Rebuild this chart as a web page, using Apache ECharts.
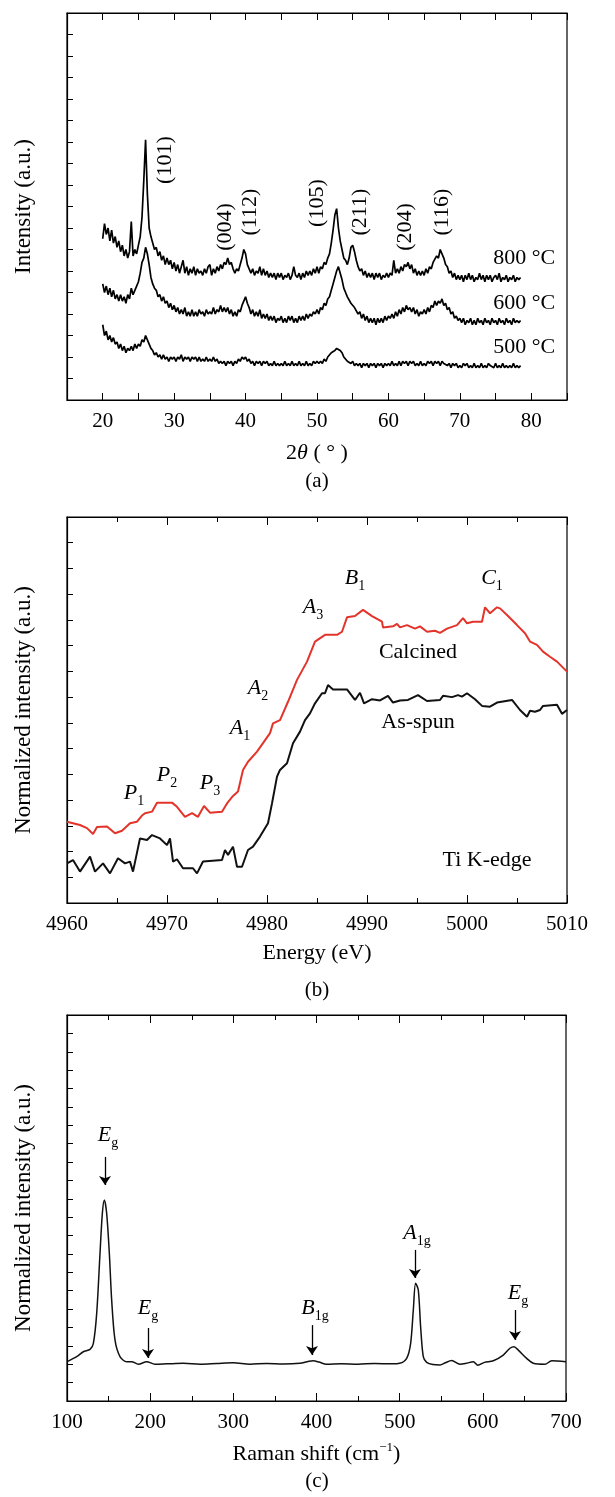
<!DOCTYPE html>
<html>
<head>
<meta charset="utf-8">
<script src="https://cdn.jsdelivr.net/npm/echarts@6.0.0/dist/echarts.min.js"></script>
<style>
    html, body { margin: 0; padding: 0; background: #fff; }
    #main { width: 615px; height: 1497px; }
</style>
</head>
<body>
<div id="main"></div>
<script>
// ---- (a) XRD ----
var twoTheta = [
    20,20.25,20.5,20.75,21,21.25,21.5,21.75,22,22.25,22.5,22.75,23,23.25,23.5,23.75,24,24.25,24.5,24.75,
    25,25.25,25.5,25.75,26,26.25,26.5,26.75,27,27.25,27.5,27.75,28,28.25,28.5,28.75,29,29.25,29.5,29.75,
    30,30.25,30.5,30.75,31,31.25,31.5,31.75,32,32.25,32.5,32.75,33,33.25,33.5,33.75,34,34.25,34.5,34.75,
    35,35.25,35.5,35.75,36,36.25,36.5,36.75,37,37.25,37.5,37.75,38,38.25,38.5,38.75,39,39.25,39.5,39.75,
    40,40.25,40.5,40.75,41,41.25,41.5,41.75,42,42.25,42.5,42.75,43,43.25,43.5,43.75,44,44.25,44.5,44.75,
    45,45.25,45.5,45.75,46,46.25,46.5,46.75,47,47.25,47.5,47.75,48,48.25,48.5,48.75,49,49.25,49.5,49.75,
    50,50.25,50.5,50.75,51,51.25,51.5,51.75,52,52.25,52.5,52.75,53,53.25,53.5,53.75,54,54.25,54.5,54.75,
    55,55.25,55.5,55.75,56,56.25,56.5,56.75,57,57.25,57.5,57.75,58,58.25,58.5,58.75,59,59.25,59.5,59.75,
    60,60.25,60.5,60.75,61,61.25,61.5,61.75,62,62.25,62.5,62.75,63,63.25,63.5,63.75,64,64.25,64.5,64.75,
    65,65.25,65.5,65.75,66,66.25,66.5,66.75,67,67.25,67.5,67.75,68,68.25,68.5,68.75,69,69.25,69.5,69.75,
    70,70.25,70.5,70.75,71,71.25,71.5,71.75,72,72.25,72.5,72.75,73,73.25,73.5,73.75,74,74.25,74.5,74.75,
    75,75.25,75.5,75.75,76,76.25,76.5,76.75,77,77.25,77.5,77.75,78,78.25,78.5];
var xrd800 = [
    7.5,8.2,7.7,8.0,7.4,7.9,7.3,7.6,7.1,7.4,6.9,7.2,6.7,7.0,6.6,6.9,8.3,6.7,7.0,6.8,
    7.2,7.6,8.5,10.2,12.1,9.6,8.0,7.6,7.3,7.0,7.1,6.7,6.9,6.5,6.7,6.3,6.6,6.3,6.5,6.1,
    6.4,6.0,6.3,5.9,6.2,6.5,5.9,6.2,5.8,6.1,5.9,6.2,5.8,6.1,5.9,6.0,5.8,6.1,5.9,6.2,
    6.3,5.8,6.1,5.9,6.2,6.0,6.3,6.1,6.4,6.3,6.6,6.3,6.4,6.1,5.9,6.1,6.0,6.3,6.6,7.0,
    6.8,6.3,6.1,5.9,6.1,5.8,6.0,5.9,6.2,5.8,6.1,5.8,6.0,5.7,5.9,5.7,5.9,5.6,5.9,5.7,
    5.9,5.6,5.8,5.7,5.9,5.6,5.8,6.2,5.8,5.7,5.9,5.6,5.9,5.7,6.0,5.8,6.0,5.8,6.1,5.9,
    6.2,5.9,6.2,6.1,6.4,6.3,6.6,6.8,7.3,7.9,8.6,8.9,8.0,7.4,7.0,6.6,6.5,6.3,6.6,7.1,
    7.2,6.9,6.5,6.2,6.0,6.1,5.8,6.0,5.7,5.9,5.7,5.9,5.6,5.9,5.7,5.9,5.6,5.8,5.7,5.9,
    5.7,5.9,5.8,6.5,5.9,6.1,5.9,6.2,6.0,6.3,6.2,6.4,6.1,6.3,5.9,6.1,5.8,6.0,5.8,6.0,
    5.8,6.1,5.9,6.2,6.1,6.4,6.4,6.7,6.6,7.0,6.8,6.6,6.3,6.2,5.9,6.0,5.7,5.9,5.6,5.8,
    5.6,5.8,5.5,5.8,5.6,5.9,5.6,5.8,5.5,5.7,5.6,5.9,5.6,5.8,5.5,5.8,5.6,5.8,5.5,5.7,
    5.8,5.6,5.9,5.5,5.7,5.6,5.8,5.5,5.7,5.6,5.8,5.5,5.7,5.6,5.7];
var xrd600 = [
    5.4,5.0,5.3,4.9,5.2,4.8,5.1,4.7,4.9,4.6,4.9,4.6,4.8,4.5,4.9,4.7,5.2,4.9,5.1,5.3,
    5.5,5.9,6.4,6.6,7.1,6.8,6.3,5.7,5.4,5.2,5.1,4.8,4.9,4.6,4.8,4.5,4.6,4.3,4.5,4.2,
    4.4,4.1,4.3,4.0,4.2,4.0,4.3,3.9,4.1,3.9,4.2,3.9,4.1,3.9,4.2,4.0,4.1,3.9,4.2,4.0,
    4.1,4.0,4.3,4.0,4.2,4.1,4.4,4.1,4.3,4.1,4.3,4.0,4.2,3.9,4.1,3.9,4.2,4.1,4.4,4.6,
    4.8,4.5,4.3,4.0,4.2,3.9,4.1,3.9,4.2,3.8,4.0,3.8,4.0,3.7,3.9,3.7,3.9,3.6,3.8,3.7,
    3.9,3.6,3.8,3.6,3.9,3.7,3.9,3.6,3.8,3.6,3.9,3.7,3.9,3.7,4.0,3.8,4.0,3.9,4.1,4.0,
    4.2,4.0,4.3,4.2,4.5,4.4,4.7,4.8,5.1,5.4,5.7,6.0,6.2,5.9,5.6,5.2,5.0,4.8,4.8,4.5,
    4.5,4.3,4.3,4.0,4.1,3.8,4.0,3.7,3.9,3.6,3.8,3.6,3.8,3.5,3.8,3.6,3.8,3.6,3.9,3.7,
    3.9,3.8,4.0,3.8,4.1,3.9,4.2,4.0,4.3,4.1,4.4,4.2,4.3,4.1,4.3,4.0,4.2,3.9,4.1,4.0,
    4.2,4.0,4.3,4.1,4.4,4.3,4.6,4.4,4.6,4.5,4.7,4.4,4.5,4.2,4.3,4.0,4.1,3.8,3.9,3.7,
    3.8,3.6,3.8,3.5,3.7,3.6,3.8,3.5,3.7,3.5,3.8,3.6,3.7,3.5,3.8,3.6,3.7,3.5,3.8,3.6,
    3.7,3.5,3.8,3.6,3.7,3.5,3.8,3.6,3.7,3.5,3.8,3.6,3.7,3.6,3.7];
var xrd500 = [
    3.5,3.0,3.2,2.8,3.0,2.7,2.9,2.6,2.7,2.4,2.6,2.3,2.5,2.2,2.4,2.3,2.5,2.3,2.6,2.4,
    2.6,2.5,2.8,2.7,3.0,2.8,2.6,2.4,2.3,2.1,2.2,2.0,2.1,1.9,2.1,1.9,2.0,1.8,2.0,1.9,
    2.0,1.8,2.0,1.9,2.1,1.8,2.0,1.9,2.0,1.8,2.0,1.9,2.0,1.8,2.0,1.8,1.9,1.8,2.0,1.8,
    1.9,1.8,2.0,1.8,1.9,1.7,1.8,1.7,1.8,1.6,1.8,1.7,1.8,1.6,1.8,1.7,1.9,1.8,2.0,1.9,
    2.0,1.8,1.9,1.7,1.8,1.6,1.8,1.7,1.8,1.6,1.8,1.7,1.8,1.6,1.7,1.6,1.8,1.6,1.7,1.6,
    1.7,1.6,1.8,1.6,1.7,1.6,1.8,1.6,1.7,1.6,1.8,1.6,1.7,1.6,1.8,1.6,1.7,1.6,1.8,1.7,
    1.8,1.7,1.8,1.7,1.9,1.8,2.0,2.0,2.2,2.2,2.3,2.4,2.4,2.3,2.2,2.0,2.0,1.8,1.8,1.7,
    1.8,1.6,1.7,1.6,1.7,1.5,1.7,1.6,1.7,1.5,1.7,1.6,1.7,1.5,1.7,1.6,1.7,1.5,1.7,1.6,
    1.7,1.6,1.8,1.6,1.7,1.6,1.8,1.6,1.8,1.7,1.8,1.6,1.8,1.7,1.8,1.6,1.7,1.6,1.8,1.6,
    1.7,1.6,1.8,1.7,1.8,1.6,1.8,1.7,1.8,1.6,1.8,1.7,1.7,1.6,1.7,1.5,1.7,1.6,1.7,1.5,
    1.6,1.5,1.7,1.6,1.7,1.5,1.6,1.5,1.7,1.5,1.6,1.5,1.7,1.5,1.6,1.5,1.7,1.6,1.6,1.5,
    1.7,1.5,1.6,1.5,1.7,1.5,1.6,1.5,1.6,1.5,1.7,1.5,1.6,1.5,1.6];
var xrdTickLabels = [20, 30, 40, 50, 60, 70, 80];
// [text, 2theta, y]
var xrdPeakLabels = [['(101)', 28.7, 11.16], ['(004)', 37.15, 8.05], ['(112)', 40.7, 8.74],
    ['(105)', 50.1, 9.16], ['(211)', 56.0, 8.74], ['(204)', 62.35, 8.05], ['(116)', 67.55, 8.74]];
var xrdTempLabels = [['800 °C', 79.0, 6.6], ['600 °C', 79.0, 4.5], ['500 °C', 79.0, 2.47]];

// ---- (b) XANES ----
var calcEnergy = [4960,4961.3,4962,4962.6,4963,4964,4964.8,4965.5,4966.3,4967,4967.5,4967.8,4968.5,4969,
    4970.5,4971,4971.8,4972.5,4973.1,4973.7,4974.3,4975.5,4976,4976.6,4977.1,4977.6,4978.1,4979,
    4979.6,4980.3,4980.6,4981.3,4982.1,4983,4984,4984.8,4985.8,4987,4987.5,4988,4988.8,4989.6,
    4990.5,4991.5,4991.6,4992.6,4993,4993.3,4994,4994.8,4995.3,4996,4996.8,4997.3,4998,4999,
    4999.6,5000,5000.6,5001.5,5001.8,5002.3,5003,5003.3,5004,5005,5005.8,5006.3,5007,5007.6,
    5008.3,5009,5010];
var calcined = [3.16,3.03,2.91,2.68,2.95,2.97,2.71,2.81,3.10,3.16,3.40,3.49,3.55,3.90,
    3.90,3.74,3.35,3.49,3.35,3.77,3.51,3.55,3.87,4.16,4.33,5.17,5.49,5.88,
    6.21,6.60,6.98,7.11,7.82,8.67,9.38,10.16,10.42,10.42,10.54,11.10,11.15,11.39,
    11.15,10.93,10.71,10.75,10.85,10.71,10.80,10.66,10.75,10.54,10.58,10.50,10.66,10.80,
    11.07,10.87,10.93,10.93,11.49,11.26,11.49,11.45,11.19,10.80,10.48,10.16,10.03,9.77,
    9.57,9.38,8.99];
var spunEnergy = [4960,4960.6,4961.3,4962.3,4962.8,4963.6,4964.3,4965.1,4965.8,4966.3,4966.6,4967.3,
    4968,4968.5,4969.3,4970,4970.3,4970.6,4971,4971.6,4972.6,4973,4973.6,4975.5,4975.8,4976.1,
    4976.6,4977,4977.5,4978.1,4978.6,4979.3,4980.1,4980.5,4981,4981.3,4982,4982.6,4983.3,4983.8,
    4984.3,4984.8,4985.5,4985.8,4986.1,4986.6,4988,4988.8,4989.3,4989.7,4990.5,4991.3,4992.1,
    4992.6,4993.3,4994.1,4995.1,4996,4997.3,4997.6,4998.5,4999.1,4999.5,5000,5000.8,5001.5,
    5002.3,5003,5004.5,5005.3,5006,5006.3,5006.8,5007.3,5007.6,5009,5009.5,5010];
var asSpun = [1.54,1.67,1.22,1.80,1.22,1.54,1.15,1.74,1.54,1.61,1.22,2.51,
    2.45,2.64,2.51,2.25,2.51,1.61,1.70,1.35,1.35,1.15,1.61,1.67,2.06,1.87,
    2.19,1.41,1.41,2.06,2.19,2.58,3.10,3.87,4.91,5.17,5.43,6.21,6.66,7.11,
    7.37,7.76,8.15,8.15,8.47,8.30,8.30,7.89,8.17,7.76,7.92,7.87,8.05,
    7.79,7.87,7.89,8.08,7.85,7.89,8.05,8.00,8.08,8.02,8.15,7.92,7.66,
    7.63,7.79,7.89,7.50,7.24,7.47,7.43,7.50,7.66,7.70,7.35,7.50];
var xanesLabels = [['{i|B}{s|1}', 4988.8, 12.63], ['{i|C}{s|1}', 5002.5, 12.63], ['{i|A}{s|3}', 4984.6, 11.5],
    ['Calcined', 4995.1, 9.75], ['{i|A}{s|2}', 4979.1, 8.36], ['As-spun', 4995.1, 7.03],
    ['{i|A}{s|1}', 4977.3, 6.8], ['{i|P}{s|2}', 4970.0, 4.97], ['{i|P}{s|3}', 4974.3, 4.66],
    ['{i|P}{s|1}', 4966.7, 4.28], ['Ti K-edge', 5002.0, 1.67]];

// ---- (c) Raman ----
var ramanShift = [100,111.6,119.6,127.7,131.7,135.7,139.7,142.5,144.9,147.7,150.9,153.7,157.7,163.7,
    171.8,177.8,185.8,195.8,205.8,220,240,260,280,300,320,340,360,380,390,396,403,412,430,450,
    470,490,500,508.4,513.2,516.4,519.2,522.4,525.2,528.4,532.5,540,548.5,555,562.5,572.5,580,
    588.6,594,602,612.6,624.6,632.6,637.5,642.6,652.7,660.7,674.7,682.8,700];
var ramanIntensity = [2.14,2.41,2.68,2.81,3.14,4.77,8.04,10.21,10.94,10.21,8.04,5.5,3.32,2.41,
    2.14,2.14,2.0,2.14,2.0,2.02,2.05,2.0,2.04,2.08,2.0,2.04,2.01,2.05,2.15,2.19,2.12,2.0,2.02,2.0,
    2.04,2.02,2.05,2.32,3.14,4.95,6.4,6.04,4.04,2.41,2.1,1.98,1.96,2.08,2.2,2.0,2.05,
    2.14,1.95,2.1,2.19,2.5,2.87,2.95,2.77,2.32,2.05,2.0,2.19,2.14];
var ramanLabels = [['{i|E}{s|g}', 149.3, 14.47], ['{i|E}{s|g}', 197.4, 5.06], ['{i|B}{s|1g}', 398.2, 5.06],
    ['{i|A}{s|1g}', 520.8, 9.14], ['{i|E}{s|g}', 642.3, 5.88]];
// [shift, from y, to y]
var ramanArrows = [[145.7, 13.28, 11.75], [197.4, 3.97, 2.34], [394.6, 4.13, 2.5],
    [518.4, 8.22, 6.69], [638.7, 4.95, 3.32]];

var FONT = '"Liberation Serif", "Times New Roman", serif';

function pairs(xs, ys) {
    return xs.map(function (x, i) { return [x, ys[i]]; });
}

var rich = {
    i: { fontFamily: FONT, fontStyle: 'italic', fontSize: 22, color: '#000', lineHeight: 30, verticalAlign: 'middle' },
    s: { fontFamily: FONT, fontSize: 14, color: '#000', lineHeight: 14, verticalAlign: 'bottom' }
};

function bottomAxis(grid, min, max, interval, name, gap, extra) {
    var ax = {
        gridIndex: grid, type: 'value', min: min, max: max, interval: interval, position: 'bottom',
        axisLine: { show: true, lineStyle: { color: '#000', width: 1.2 } },
        axisTick: { show: true, inside: true, length: 8, lineStyle: { color: '#000', width: 1 } },
        axisLabel: { margin: 11, fontSize: 21, fontFamily: FONT, color: '#000',
            formatter: function (v) { return String(v); } },
        splitLine: { show: false },
        name: name, nameLocation: 'middle', nameGap: gap,
        nameTextStyle: { fontSize: 22, fontFamily: FONT, color: '#000', lineHeight: 26,
            rich: {
                i: { fontSize: 22, fontFamily: FONT, fontStyle: 'italic', color: '#000', lineHeight: 26 },
                sup: { fontSize: 13, fontFamily: FONT, color: '#000', lineHeight: 13, verticalAlign: 'top' }
            } }
    };
    return Object.assign(ax, extra || {});
}

function topAxis(grid, min, max, interval, extra) {
    var ax = {
        gridIndex: grid, type: 'value', min: min, max: max, interval: interval, position: 'top',
        axisLine: { show: true, lineStyle: { color: '#000', width: 1.2 } },
        axisTick: { show: true, inside: true, length: 8, lineStyle: { color: '#000', width: 1 } },
        axisLabel: { show: false },
        splitLine: { show: false }
    };
    return Object.assign(ax, extra || {});
}

function leftAxis(grid, max, name) {
    return {
        gridIndex: grid, type: 'value', min: 0, max: max, interval: 1,
        axisLine: { show: true, lineStyle: { color: '#000', width: 1.2 } },
        axisTick: { show: true, inside: true, length: 6, lineStyle: { color: '#000', width: 1 } },
        axisLabel: { show: false },
        splitLine: { show: false },
        name: name, nameLocation: 'middle', nameGap: 32,
        nameTextStyle: { fontSize: 23, fontFamily: FONT, color: '#000' }
    };
}

function labelSeries(xi, yi, list, rotate) {
    return {
        type: 'scatter', xAxisIndex: xi, yAxisIndex: yi, symbolSize: 1, silent: true,
        itemStyle: { color: 'transparent', opacity: 1 },
        label: { show: true, position: 'inside', fontFamily: FONT, fontSize: 22, color: '#000',
            textBorderWidth: 0, textBorderColor: 'transparent', rich: rich },
        data: list.map(function (p) {
            return { value: [p[1], p[2]], label: { formatter: p[0], rotate: rotate || 0 } };
        })
    };
}

var minor = { minorTick: { show: true, splitNumber: 2, length: 5, lineStyle: { color: '#000', width: 1 } } };

var el = document.getElementById('main');
var myChart = echarts.init(el);
var option = {
    animation: false,
    backgroundColor: '#fff',
    grid: [
        { left: 67, top: 13, width: 500, height: 387, show: true, borderColor: '#000', borderWidth: 1.2 },
        { left: 67, top: 517, width: 500, height: 386, show: true, borderColor: '#000', borderWidth: 1.2 },
        { left: 67, top: 1015, width: 499, height: 386, show: true, borderColor: '#000', borderWidth: 1.2 }
    ],
    xAxis: [
        bottomAxis(0, 15, 85, 5, '2{i|θ} ( ° )', 40, {
            axisTick: { show: true, inside: true, length: 7, lineStyle: { color: '#000', width: 1 } },
            axisLabel: { margin: 11, fontSize: 21, fontFamily: FONT, color: '#000',
                formatter: function (v) { return xrdTickLabels.indexOf(v) >= 0 ? String(v) : ''; } }
        }),
        topAxis(0, 15, 85, 5, { axisTick: { show: true, inside: true, length: 7, lineStyle: { color: '#000', width: 1 } } }),
        bottomAxis(1, 4960, 5010, 10, 'Energy (eV)', 37, minor),
        topAxis(1, 4960, 5010, 10, minor),
        bottomAxis(2, 100, 700, 100, 'Raman shift (cm{sup|−1})', 40, minor),
        topAxis(2, 100, 700, 100, minor)
    ],
    yAxis: [
        leftAxis(0, 18, 'Intensity (a.u.)'),
        leftAxis(1, 15, 'Normalized intensity (a.u.)'),
        leftAxis(2, 21, 'Normalized intensity (a.u.)')
    ],
    graphic: [
        { type: 'text', x: 317, y: 481, style: { text: '(a)', font: '21px ' + FONT, fill: '#000', align: 'center', verticalAlign: 'middle' } },
        { type: 'text', x: 317, y: 990, style: { text: '(b)', font: '21px ' + FONT, fill: '#000', align: 'center', verticalAlign: 'middle' } },
        { type: 'text', x: 317, y: 1481, style: { text: '(c)', font: '21px ' + FONT, fill: '#000', align: 'center', verticalAlign: 'middle' } }
    ],
    series: [
        { name: '800', type: 'line', xAxisIndex: 0, yAxisIndex: 0, data: pairs(twoTheta, xrd800),
            symbol: 'none', silent: true, lineStyle: { color: '#000', width: 1.7 } },
        { name: '600', type: 'line', xAxisIndex: 0, yAxisIndex: 0, data: pairs(twoTheta, xrd600),
            symbol: 'none', silent: true, lineStyle: { color: '#000', width: 1.7 } },
        { name: '500', type: 'line', xAxisIndex: 0, yAxisIndex: 0, data: pairs(twoTheta, xrd500),
            symbol: 'none', silent: true, lineStyle: { color: '#000', width: 1.7 } },
        labelSeries(0, 0, xrdPeakLabels, 90),
        labelSeries(0, 0, xrdTempLabels, 0),

        { name: 'Calcined', type: 'line', xAxisIndex: 2, yAxisIndex: 1, data: pairs(calcEnergy, calcined),
            symbol: 'none', silent: true, lineStyle: { color: '#e3342b', width: 2 } },
        { name: 'As-spun', type: 'line', xAxisIndex: 2, yAxisIndex: 1, data: pairs(spunEnergy, asSpun),
            symbol: 'none', silent: true, lineStyle: { color: '#111', width: 2 } },
        labelSeries(2, 1, xanesLabels, 0),

        { name: 'Raman', type: 'line', xAxisIndex: 4, yAxisIndex: 2, data: pairs(ramanShift, ramanIntensity),
            symbol: 'none', smooth: 0.3, silent: true, lineStyle: { color: '#111', width: 1.5 },
            markLine: {
                silent: true, animation: false, symbol: ['none', 'arrow'], symbolSize: 9,
                label: { show: false },
                lineStyle: { color: '#000', width: 1.3, type: 'solid' },
                data: ramanArrows.map(function (a) {
                    return [{ coord: [a[0], a[1]] }, { coord: [a[0], a[2]] }];
                })
            } },
        labelSeries(4, 2, ramanLabels, 0)
    ]
};
myChart.setOption(option);
</script>
</body>
</html>
